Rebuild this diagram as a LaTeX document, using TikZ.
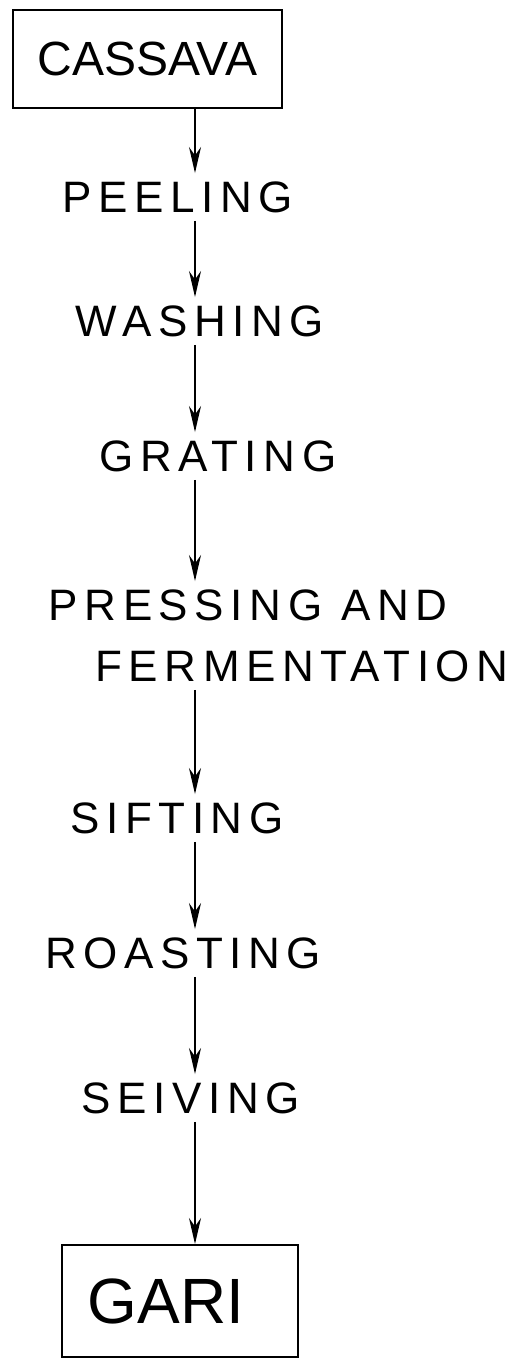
\documentclass[tikz,border=0pt]{standalone}
\usepackage{fontspec}
\setmainfont{Liberation Sans}
\usetikzlibrary{arrows.meta}

\tikzset{
  stage/.style={inner sep=4pt, font=\fontsize{22}{26}\selectfont\addfontfeature{LetterSpace=15}},
  endbox/.style={draw, line width=1pt, inner sep=0pt},
  flow/.style={line width=0.75pt, -{Stealth[length=13pt,width=6pt]}},
}

\begin{document}
\begin{tikzpicture}[x=0.5pt,y=-0.5pt]
			\useasboundingbox (0,0) rectangle (529,1359);
			\coordinate (spine) at (195,0);

			\node[endbox, minimum width=134.5pt, minimum height=49pt,
				font=\fontsize{24}{28}\selectfont] (cassava) at (147.5,59) {CASSAVA};
			\node[stage] (peeling) at (178,197) {PEELING};
			\node[stage] (washing) at (200,321) {WASHING};
			\node[stage] (grating) at (218,456) {GRATING};
			\node[stage] (pressing) at (248,605) {PRESSING AND};
			\node[stage] (ferment) at (302,666) {FERMENTATION};
			\node[stage] (sifting) at (177,818) {SIFTING};
			\node[stage] (roasting) at (183,953) {ROASTING};
			\node[stage] (seiving) at (191,1098) {SEIVING};
			\node[endbox, minimum width=118pt, minimum height=56pt,
				font=\fontsize{32}{36}\selectfont] (gari) at (180,1301) {GARI\kern14pt};

			\draw[flow] (cassava.south -| spine) -- (peeling.north -| spine);
			\draw[flow] (peeling.south -| spine) -- (washing.north -| spine);
			\draw[flow] (washing.south -| spine) -- (grating.north -| spine);
			\draw[flow] (grating.south -| spine) -- (pressing.north -| spine);
			\draw[flow] (ferment.south -| spine) -- (sifting.north -| spine);
			\draw[flow] (sifting.south -| spine) -- (roasting.north -| spine);
			\draw[flow] (roasting.south -| spine) -- (seiving.north -| spine);
			\draw[flow] (seiving.south -| spine) -- (gari.north -| spine);
		\end{tikzpicture}
\end{document}
